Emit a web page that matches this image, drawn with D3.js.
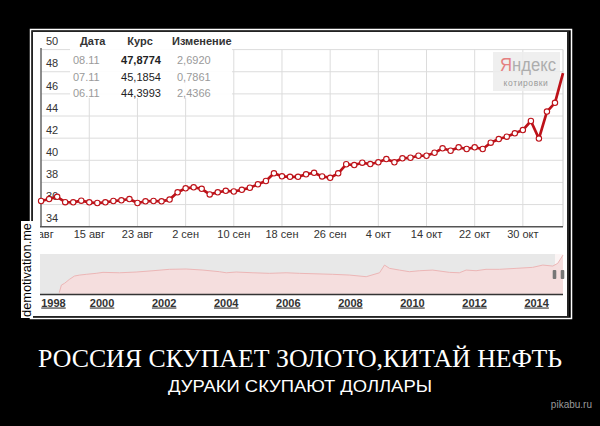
<!DOCTYPE html>
<html>
<head>
<meta charset="utf-8">
<script src="https://cdn.jsdelivr.net/npm/d3@7"></script>
<style>
  html, body { margin: 0; padding: 0; background: #000; }
  svg { display: block; }
</style>
</head>
<body>
<div id="poster"></div>
<script>
// курс доллара ЦБ (торговые дни) ------------------------------------------------
const dates = ['07.08','08.08','09.08','12.08','13.08','14.08','15.08','16.08','19.08','20.08',
  '21.08','22.08','23.08','26.08','27.08','28.08','29.08','30.08',
  '02.09','03.09','04.09','05.09','06.09','09.09','10.09','11.09','12.09','13.09','16.09','17.09',
  '18.09','19.09','20.09','23.09','24.09','25.09','26.09','27.09','30.09',
  '01.10','02.10','03.10','04.10','07.10','08.10','09.10','10.10','11.10','14.10','15.10','16.10',
  '17.10','18.10','21.10','22.10','23.10','24.10','25.10','28.10','29.10','30.10','31.10',
  '01.11','06.11','07.11','08.11'];
const rates = [36.32, 36.50, 36.70, 36.22, 36.20, 36.35, 36.20, 36.14, 36.20, 36.32,
  36.38, 36.50, 36.14, 36.29, 36.32, 36.29, 36.45, 37.11,
  37.47, 37.56, 37.42, 36.92, 37.11, 37.24, 37.18, 37.33, 37.52, 37.83, 38.13, 38.82,
  38.55, 38.51, 38.51, 38.73, 38.87, 38.54, 38.42, 38.82, 39.64,
  39.57, 39.78, 39.66, 39.82, 40.11, 39.82, 40.18, 40.23, 40.41, 40.41, 40.68, 41.08,
  40.86, 41.17, 41.02, 41.17, 41.02, 41.59, 41.92, 42.13, 42.44, 42.73, 43.55,
  41.96, 44.40, 45.19, 47.88];
const xTickLabels = ['7 авг','15 авг','23 авг','2 сен','10 сен','18 сен','26 сен','4 окт','14 окт','22 окт','30 окт'];
const yTickValues = [34, 36, 38, 40, 42, 44, 46, 48, 50];
// таблица последних значений
const tableDates = ['08.11', '07.11', '06.11'];
const tableRates = ['47,8774', '45,1854', '44,3993'];
const tableChanges = ['2,6920', '0,7861', '2,4366'];
// навигатор 1998-2014
const navYears = [1998.62, 1998.69, 1998.79, 1998.95, 1999.11, 1999.28, 1999.49, 1999.81, 2000.03, 2000.56,
  2001.1, 2001.64, 2002.17, 2002.71, 2003.25, 2003.78, 2004.0, 2004.32, 2004.86, 2005.39, 2005.93,
  2006.36, 2007.43, 2007.97, 2008.51, 2008.94, 2009.1, 2009.26, 2009.58, 2009.9, 2010.23, 2010.65,
  2011.19, 2011.51, 2011.73, 2012.05, 2012.37, 2012.8, 2013.34, 2013.87, 2014.2, 2014.52, 2014.68, 2014.85];
const navValues = [2, 11.3, 13.4, 18.3, 22.3, 23.5, 24.4, 25.6, 26.8, 26.3,
  27.2, 28.8, 30.5, 30.9, 29.6, 27.6, 26.3, 27.2, 26.3, 25.6, 26.3,
  25.6, 24.4, 23.5, 21.5, 26.3, 35.7, 31.7, 29.6, 27.6, 28.8, 29.6,
  26.8, 26.3, 29.6, 28.8, 30.5, 30.5, 31.7, 32.9, 35.7, 34.5, 37.8, 47.9];
const navLabels = [1998, 2000, 2002, 2004, 2006, 2008, 2010, 2012, 2014];

const title = 'РОССИЯ СКУПАЕТ ЗОЛОТО,КИТАЙ НЕФТЬ';
const subtitle = 'ДУРАКИ СКУПАЮТ ДОЛЛАРЫ';

// SVG -----------------------------------------------------------------------------
const width = 600, height = 426;
const sans = '"Liberation Sans", Arial, sans-serif';
const svg = d3.select('#poster').append('svg')
  .attr('width', width)
  .attr('height', height);
svg.append('rect').attr('width', width).attr('height', height).attr('fill', '#000');

// рамка демотиватора
svg.append('rect')
  .attr('x', 30.5).attr('y', 29.5).attr('width', 541).attr('height', 289)
  .attr('fill', 'none').attr('stroke', '#fff').attr('stroke-width', 1.5);
svg.append('rect')
  .attr('x', 32).attr('y', 31).attr('width', 537).attr('height', 286)
  .attr('fill', '#222');
svg.append('rect')
  .attr('x', 33).attr('y', 32).attr('width', 534).attr('height', 284)
  .attr('fill', '#fff');

// основной график ------------------------------------------------------------------
const x = d3.scaleLinear().domain([0, rates.length - 1]).range([41.1, 563]);
const y = d3.scaleLinear().domain([34, 50]).range([226.7, 49.6]);
const tickIdx = xTickLabels.map((d, i) => i * 6);

svg.append('defs').append('clipPath').attr('id', 'plot-clip')
  .append('rect').attr('x', 40).attr('y', 30).attr('width', 527).attr('height', 220);

const grid = svg.append('g');
grid.selectAll('.hgrid').data(yTickValues.filter(d => d > 34))
  .enter().append('line')
  .attr('x1', x(0)).attr('x2', x(rates.length - 1))
  .attr('y1', d => y(d)).attr('y2', d => y(d))
  .attr('stroke', '#dcdcdc').attr('stroke-width', 1);
grid.selectAll('.vgrid').data(tickIdx.slice(1))
  .enter().append('line')
  .attr('x1', d => x(d)).attr('x2', d => x(d))
  .attr('y1', y(50)).attr('y2', y(34))
  .attr('stroke', '#dcdcdc').attr('stroke-width', 1);
// правая граница
grid.append('line')
  .attr('x1', x(rates.length - 1)).attr('x2', x(rates.length - 1))
  .attr('y1', y(50)).attr('y2', y(34))
  .attr('stroke', '#ccc');

// таблица (под линией)
const table = svg.append('g');
table.append('rect')
  .attr('x', 70).attr('y', 32).attr('width', 162).attr('height', 66)
  .attr('fill', '#fff').attr('opacity', 0.92);
const hdr = [['Дата', 80, 'start'], ['Курс', 140, 'middle'], ['Изменение', 172, 'start']];
table.selectAll('.hdr').data(hdr).enter().append('text')
  .attr('x', d => d[1]).attr('y', 44.5)
  .attr('text-anchor', d => d[2])
  .attr('font-family', sans).attr('font-size', '11px').attr('font-weight', 'bold')
  .attr('fill', '#333')
  .text(d => d[0]);
const rowY = [63.5, 80.7, 96.7];
table.selectAll('.tdate').data(tableDates).enter().append('text')
  .attr('x', 73).attr('y', (d, i) => rowY[i])
  .attr('font-family', sans).attr('font-size', '11px').attr('fill', '#9a9a9a')
  .text(d => d);
table.selectAll('.trate').data(tableRates).enter().append('text')
  .attr('x', 141).attr('y', (d, i) => rowY[i])
  .attr('text-anchor', 'middle')
  .attr('font-family', sans).attr('font-size', '11px')
  .attr('font-weight', (d, i) => i === 0 ? 'bold' : 'normal')
  .attr('fill', '#222')
  .text(d => d);
table.selectAll('.tchg').data(tableChanges).enter().append('text')
  .attr('x', 177).attr('y', (d, i) => rowY[i])
  .attr('font-family', sans).attr('font-size', '11px').attr('fill', '#9a9a9a')
  .text(d => d);

// логотип Яндекс
const logo = svg.append('g');
logo.append('rect')
  .attr('x', 493).attr('y', 52).attr('width', 67).attr('height', 39)
  .attr('fill', '#ececec').attr('opacity', 0.85);
const logoText = logo.append('text')
  .attr('x', 500).attr('y', 71)
  .attr('font-family', '"Liberation Sans Narrow", "Liberation Sans", Arial, sans-serif')
  .attr('font-size', '18px')
  .attr('textLength', 56).attr('lengthAdjust', 'spacingAndGlyphs');
logoText.append('tspan').attr('fill', '#e58080').text('Я');
logoText.append('tspan').attr('fill', '#adadad').text('ндекс');
logo.append('text')
  .attr('x', 526).attr('y', 86)
  .attr('text-anchor', 'middle')
  .attr('font-family', sans).attr('font-size', '8.5px').attr('fill', '#9a9a9a')
  .attr('letter-spacing', '0.6px')
  .text('котировки');

// оси
svg.append('line')
  .attr('x1', 41).attr('x2', 41).attr('y1', 48).attr('y2', y(34))
  .attr('stroke', '#666').attr('stroke-width', 1.5);
svg.append('line')
  .attr('x1', 40).attr('x2', x(rates.length - 1)).attr('y1', y(34)).attr('y2', y(34))
  .attr('stroke', '#555').attr('stroke-width', 1.5);

svg.append('g').selectAll('text').data(yTickValues).enter().append('text')
  .attr('x', 46).attr('y', d => y(d) - 4.3)
  .attr('font-family', sans).attr('font-size', '11px').attr('fill', '#333')
  .text(d => d);

svg.append('g').attr('clip-path', 'url(#plot-clip)')
  .selectAll('text').data(xTickLabels).enter().append('text')
  .attr('x', (d, i) => x(tickIdx[i])).attr('y', 237.5)
  .attr('text-anchor', 'middle')
  .attr('font-family', sans).attr('font-size', '11px').attr('fill', '#333')
  .text(d => d);

// линия курса
const line = d3.line().x((d, i) => x(i)).y(d => y(d));
svg.append('path')
  .datum(rates)
  .attr('d', line)
  .attr('fill', 'none')
  .attr('stroke', '#bd1219')
  .attr('stroke-width', 2.7)
  .attr('stroke-linejoin', 'round');
svg.append('g').selectAll('circle').data(rates.slice(0, -1)).enter().append('circle')
  .attr('cx', (d, i) => x(i)).attr('cy', d => y(d))
  .attr('r', 2.7)
  .attr('fill', '#fff')
  .attr('stroke', '#bd1219')
  .attr('stroke-width', 1.1);

// навигатор ------------------------------------------------------------------------
const nx = d3.scaleLinear().domain([1998, 2014.85]).range([40, 563]);
const ny = d3.scaleLinear().domain([0, 48]).range([294.3, 255]);
svg.append('rect')
  .attr('x', 40).attr('y', 254).attr('width', 515).attr('height', 40)
  .attr('fill', '#e8e8e8');
svg.append('rect')
  .attr('x', 555).attr('y', 254).attr('width', 8).attr('height', 40)
  .attr('fill', '#fbf4f4');
const navData = navYears.map((d, i) => [d, navValues[i]]);
svg.append('path')
  .datum(navData)
  .attr('d', d3.area().x(d => nx(d[0])).y0(ny(0)).y1(d => ny(d[1])))
  .attr('fill', '#f5dede');
svg.append('path')
  .datum(navData)
  .attr('d', d3.line().x(d => nx(d[0])).y(d => ny(d[1])))
  .attr('fill', 'none').attr('stroke', '#ecb6b6').attr('stroke-width', 1);
svg.selectAll('.handle').data([554.5, 562.5]).enter().append('rect')
  .attr('x', d => d - 1.8).attr('y', 270).attr('width', 3.6).attr('height', 9)
  .attr('rx', 1).attr('fill', '#777');
svg.append('line')
  .attr('x1', 40).attr('x2', 563).attr('y1', 294.5).attr('y2', 294.5)
  .attr('stroke', '#333').attr('stroke-width', 1.5);
svg.append('g').selectAll('text').data(navLabels).enter().append('text')
  .attr('x', d => Math.max(nx(d), 53.5)).attr('y', 306.5)
  .attr('text-anchor', 'middle')
  .attr('font-family', sans).attr('font-size', '11px').attr('font-weight', 'bold')
  .attr('text-decoration', 'underline')
  .attr('fill', '#333')
  .text(d => d);

// водяной знак
svg.append('rect')
  .attr('x', 21).attr('y', 221).attr('width', 12).attr('height', 97)
  .attr('fill', '#fff');
svg.append('text')
  .attr('transform', 'translate(31,317) rotate(-90)')
  .attr('font-family', sans).attr('font-size', '12px').attr('fill', '#000')
  .attr('textLength', 94).attr('lengthAdjust', 'spacingAndGlyphs')
  .text('demotivation.me');

// подпись ------------------------------------------------------------------------------
svg.append('text')
  .attr('x', 300).attr('y', 367)
  .attr('text-anchor', 'middle')
  .attr('font-family', '"Liberation Serif", "Times New Roman", serif')
  .attr('font-size', '25px').attr('fill', '#fff')
  .attr('textLength', 524).attr('lengthAdjust', 'spacingAndGlyphs')
  .text(title);
svg.append('text')
  .attr('x', 300).attr('y', 392)
  .attr('text-anchor', 'middle')
  .attr('font-family', sans)
  .attr('font-size', '17px').attr('fill', '#fff')
  .attr('textLength', 264).attr('lengthAdjust', 'spacingAndGlyphs')
  .text(subtitle);
svg.append('text')
  .attr('x', 592).attr('y', 408)
  .attr('text-anchor', 'end')
  .attr('font-family', sans).attr('font-size', '10px').attr('fill', '#9a9a9a')
  .text('pikabu.ru');
</script>
</body>
</html>
